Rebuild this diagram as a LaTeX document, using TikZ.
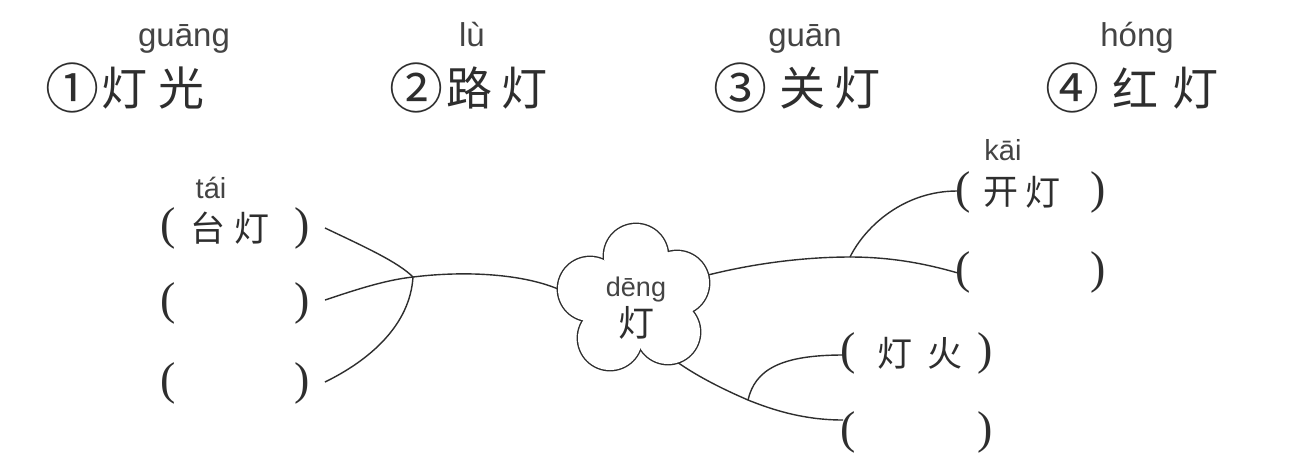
\documentclass[tikz,border=0pt]{standalone}
\usepackage{fontspec}
\newfontfamily\cjk{Noto Sans CJK SC}
\newfontfamily\py{Liberation Sans}
\newfontfamily\prn{Liberation Serif}
\definecolor{ink}{HTML}{2E2E2E}
\definecolor{pink}{HTML}{444444}
\tikzset{
  big/.style={font=\cjk\fontsize{23}{23}\selectfont, inner sep=0pt, text=ink},
  circnum/.style={font=\cjk\fontsize{27}{27}\selectfont, inner sep=0pt, text=ink},
  mid/.style={font=\cjk\fontsize{17.5}{17.5}\selectfont, inner sep=0pt, text=ink},
  paren/.style={font=\prn\fontsize{23}{23}\selectfont, inner sep=0pt, text=ink},
  pin/.style={font=\py\fontsize{16.5}{16.5}\selectfont, inner sep=0pt, anchor=base, text=pink},
  smallpin/.style={font=\py\fontsize{14.5}{14.5}\selectfont, inner sep=0pt, anchor=base, text=pink},
  link/.style={draw=ink, line width=0.7pt},
  petal/.style={draw=ink, line width=1.4pt},
}
\begin{document}
\begin{tikzpicture}[x=0.5pt, y=-0.5pt]
\useasboundingbox[fill=white] (0,0) rectangle (1313,463);

% top row
\node[pin] (p1) at (184,46) {guāng};
\node[circnum] (n1) at (73,88) {①};
\node[big] (a1) at (124,88) {灯};
\node[big] (b1) at (181,88) {光};
\node[pin] (p2) at (472,46) {lù};
\node[circnum] (n2) at (416,88) {②};
\node[big] (a2) at (469,88) {路};
\node[big] (b2) at (524,88) {灯};
\node[pin] (p3) at (805,46) {guān};
\node[circnum] (n3) at (740,88) {③};
\node[big] (a3) at (802,88) {关};
\node[big] (b3) at (857,88) {灯};
\node[pin] (p4) at (1137,46) {hóng};
\node[circnum] (n4) at (1072,88) {④};
\node[big] (a4) at (1135,88) {红};
\node[big] (b4) at (1195,88) {灯};

% left slots
\node[smallpin] (ptai) at (211,198) {tái};
\node[paren] (lp1) at (168,228) {(};
\node[mid] (t1) at (208,228) {台};
\node[mid] (t2) at (252,228) {灯};
\node[paren] (rp1) at (302,228) {)};
\node[paren] (lp2) at (168,303) {(};
\node[paren] (rp2) at (302,303) {)};
\node[paren] (lp3) at (168,383) {(};
\node[paren] (rp3) at (302,383) {)};

% right upper slots
\node[smallpin] (pkai) at (1003,160) {kāi};
\node[paren] (lp4) at (963,192) {(};
\node[mid] (k1) at (1001,192) {开};
\node[mid] (k2) at (1043,192) {灯};
\node[paren] (rp4) at (1098,192) {)};
\node[paren] (lp5) at (963,272) {(};
\node[paren] (rp5) at (1098,272) {)};

% right lower slots
\node[paren] (lp6) at (848,353) {(};
\node[mid] (h1) at (895,353) {灯};
\node[mid] (h2) at (945,353) {火};
\node[paren] (rp6) at (985,353) {)};
\node[paren] (lp7) at (848,432) {(};
\node[paren] (rp7) at (985,432) {)};

% attachment points
\coordinate (L1) at (325,228);
\coordinate (L2) at (325,300);
\coordinate (L3) at (325,382);
\coordinate (J1) at (413,277);
\coordinate (C1) at (558,289);
\coordinate (C2) at (708,275);
\coordinate (C3) at (677,362);
\coordinate (J2) at (850,257);
\coordinate (R1) at (957,191);
\coordinate (R2) at (958,273);
\coordinate (J3) at (748,400);
\coordinate (R3) at (843,355);
\coordinate (R4) at (843,420);

% connectors
\draw[link] (L1) .. controls (365,247) and (398,262) .. (J1);
\draw[link] (L2) .. controls (355,290) and (385,280) .. (J1);
\draw[link] (L3) .. controls (370,360) and (410,325) .. (J1);
\draw[link] (J1) .. controls (470,270) and (525,275) .. (C1);
\draw[link] (C2) .. controls (760,262) and (810,257) .. (J2)
                 .. controls (895,257) and (930,265) .. (R2);
\draw[link] (J2) .. controls (866,225) and (905,191) .. (R1);
\draw[link] (C3) .. controls (700,378) and (725,390) .. (J3)
                 .. controls (780,413) and (810,420) .. (R4);
\draw[link] (J3) .. controls (755,370) and (780,355) .. (R3);

% cloud
\foreach \c in {(636,256),(590,289),(677,283),(610,338),(668,332)}
  \draw[petal] \c circle[radius=16pt];
\foreach \c in {(636,256),(590,289),(677,283),(610,338),(668,332)}
  \fill[white] \c circle[radius=16pt];
\fill[white] (635,298) circle[radius=20pt];
\node[pin, font=\py\fontsize{13.5}{13.5}\selectfont] (deng) at (636,296) {dēng};
\node[mid, font=\cjk\fontsize{18}{18}\selectfont] (dhz) at (636,323) {灯};
\end{tikzpicture}
\end{document}
